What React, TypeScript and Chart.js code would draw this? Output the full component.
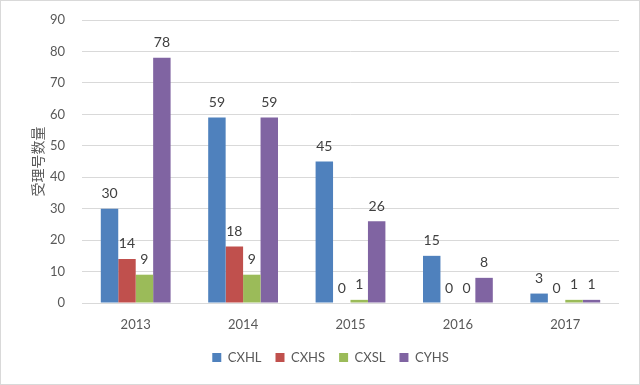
import React, { useEffect, useRef } from "react";
import { Chart, registerables } from "chart.js";

Chart.register(...registerables);

const categories = ["2013", "2014", "2015", "2016", "2017"];
const cxhl = [30, 59, 45, 15, 3];
const cxhs = [14, 18, 0, 0, 0];
const cxsl = [9, 9, 1, 0, 1];
const cyhs = [78, 59, 26, 8, 1];
const yTicks = [0, 10, 20, 30, 40, 50, 60, 70, 80, 90];

const FONT = "Lato, 'Open Sans', sans-serif";

const frame = {
  id: "frame",
  beforeDraw(chart: any) {
    const { ctx, width, height } = chart;
    ctx.save();
    ctx.fillStyle = "#ffffff";
    ctx.fillRect(0, 0, width, height);
    ctx.strokeStyle = "#d9d9d9";
    ctx.lineWidth = 1;
    ctx.strokeRect(0.5, 0.5, width - 1, height - 1);
    ctx.restore();
  },
  afterLayout(chart: any) {
    if (chart.legend) {
      chart.legend.left += 21;
      chart.legend.right += 21;
    }
  },
};

const valueLabels = {
  id: "valueLabels",
  afterDatasetsDraw(chart: any) {
    const { ctx } = chart;
    ctx.save();
    ctx.font = `14px ${FONT}`;
    ctx.fillStyle = "#404040";
    ctx.textAlign = "center";
    ctx.textBaseline = "bottom";
    chart.data.datasets.forEach((ds: any, i: number) => {
      const meta = chart.getDatasetMeta(i);
      meta.data.forEach((bar: any, j: number) => {
        ctx.fillText(String(ds.data[j]), bar.x, bar.y - 8);
      });
    });
    ctx.restore();
  },
};

export default function App() {
  const ref = useRef<HTMLCanvasElement>(null);
  useEffect(() => {
    document.body.style.margin = "0";
    const chart = new Chart(ref.current!, {
      type: "bar",
      data: {
        labels: categories,
        datasets: [
          { label: "CXHL", data: cxhl, backgroundColor: "#4F81BD" },
          { label: "CXHS", data: cxhs, backgroundColor: "#C0504D" },
          { label: "CXSL", data: cxsl, backgroundColor: "#9BBB59" },
          { label: "CYHS", data: cyhs, backgroundColor: "#8064A2" },
        ],
      },
      options: {
        responsive: false,
        animation: false,
        layout: { padding: { left: 0, right: 21, top: 20, bottom: 11 } },
        datasets: { bar: { categoryPercentage: 0.65, barPercentage: 1 } },
        plugins: {
          legend: {
            position: "bottom",
            labels: {
              boxWidth: 9,
              boxHeight: 9,
              padding: 14,
              color: "#595959",
              font: { family: FONT, size: 13 },
            },
          },
          tooltip: { enabled: false },
        },
        scales: {
          x: {
            grid: { display: false },
            border: { display: false },
            ticks: { color: "#595959", font: { family: FONT, size: 13 }, padding: 6 },
            afterFit(scale: any) {
              scale.height = 34;
              scale.paddingLeft = 0;
              scale.paddingRight = 0;
            },
          },
          y: {
            min: 0,
            max: 90,
            afterBuildTicks(scale: any) {
              scale.ticks = yTicks.map((v) => ({ value: v }));
            },
            grid: { color: "#d9d9d9", drawTicks: false },
            border: { display: false },
            ticks: { color: "#595959", font: { family: FONT, size: 13 }, padding: 17 },
            title: {
              display: true,
              text: "受理号数量",
              color: "#595959",
              font: { family: "'Noto Sans CJK SC', sans-serif", size: 14, weight: "normal" },
              padding: { top: 29, bottom: 0 },
            },
            afterFit(scale: any) {
              scale.width = 82;
              scale.paddingTop = 0;
              scale.paddingBottom = 0;
            },
          },
        },
      },
      plugins: [frame, valueLabels],
    });
    return () => chart.destroy();
  }, []);
  return <canvas ref={ref} width={640} height={385} />;
}
